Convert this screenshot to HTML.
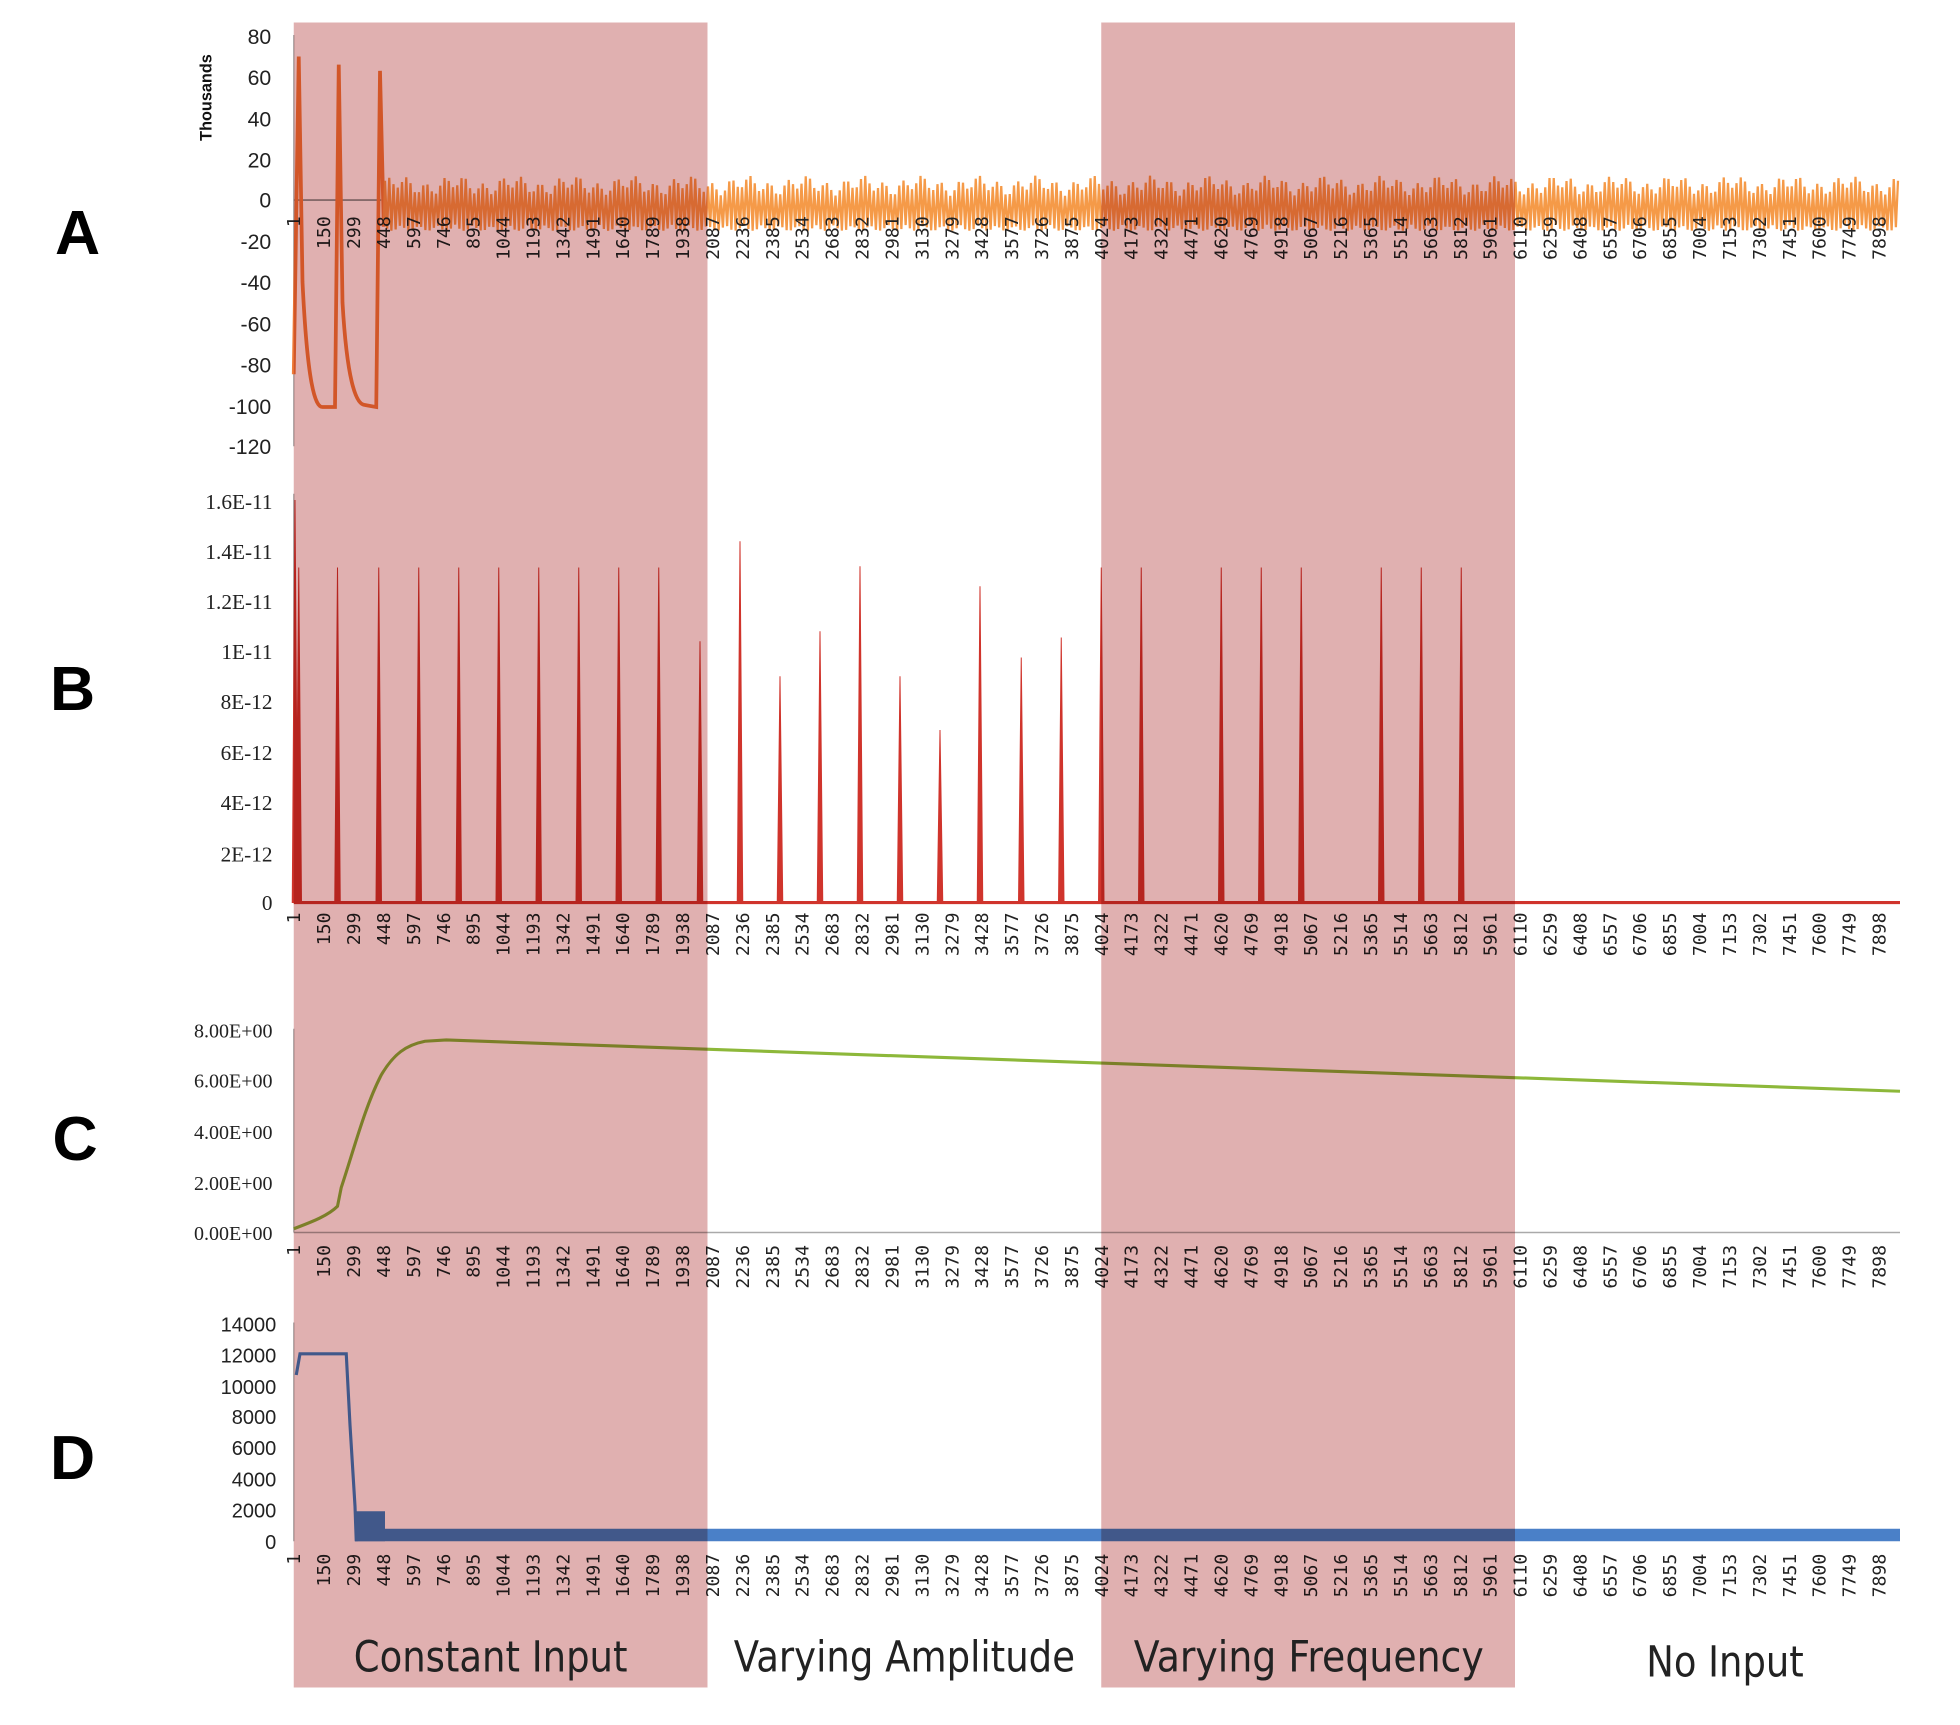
<!DOCTYPE html>
<html><head><meta charset="utf-8"><style>
html,body{margin:0;padding:0;background:#fff;}
svg{display:block;}
</style></head><body>
<svg id="s" xmlns="http://www.w3.org/2000/svg" width="1960" height="1725" viewBox="0 0 1568 1380" preserveAspectRatio="none">
<rect x="0" y="0" width="1568" height="1380" fill="#fff"/>
<g id="g"></g>
<rect x="235" y="18" width="331" height="1332" fill="#e0b0b0" style="mix-blend-mode:multiply"/>
<rect x="881" y="18" width="331" height="1332" fill="#e0b0b0" style="mix-blend-mode:multiply"/>
<g font-family="Liberation Sans, DejaVu Sans, sans-serif" font-weight="bold" font-size="50" fill="#000">
<text x="44" y="203">A</text><text x="40" y="568">B</text><text x="42" y="928">C</text><text x="40" y="1183">D</text>
</g>
<g font-family="DejaVu Sans, Liberation Sans, sans-serif" font-size="34" fill="#222">
<text x="283" y="1337" textLength="219" lengthAdjust="spacingAndGlyphs">Constant Input</text>
<text x="587" y="1337" textLength="273" lengthAdjust="spacingAndGlyphs">Varying Amplitude</text>
<text x="907" y="1337" textLength="280" lengthAdjust="spacingAndGlyphs">Varying Frequency</text>
<text x="1317" y="1341" textLength="126" lengthAdjust="spacingAndGlyphs">No Input</text>
</g>
</svg>
<script>
var NS="http://www.w3.org/2000/svg",g=document.getElementById('g');
function el(t,a,txt){var e=document.createElementNS(NS,t);for(var k in a)e.setAttribute(k,a[k]);if(txt!=null)e.textContent=txt;g.appendChild(e);return e;}
function X(n){return 235+n*0.1606;}
function yaxis(y0,y1){el('line',{x1:235,y1:y0,x2:235,y2:y1,stroke:'#aaa','stroke-width':1});}
function ylabels(list,xr,fam,fs){list.forEach(function(p){el('text',{x:xr,y:p[1]+6,'text-anchor':'end','font-family':fam,'font-size':fs,fill:'#222'},p[0]);});}
function xlabels(top){for(var i=0;i<54;i++){var n=1+149*i;var x=X(n)+5;el('text',{x:x,y:top,'text-anchor':'end','font-family':'DejaVu Sans Mono, Liberation Mono, monospace','font-size':14.5,fill:'#222',transform:'rotate(-90 '+x+' '+top+')'},String(n));}}
// A
yaxis(28,357);
ylabels([['80',29],['60',62],['40',95],['20',128],['0',160],['-20',193],['-40',226],['-60',259],['-80',292],['-100',325],['-120',357]],217,'Liberation Sans, sans-serif',17);
el('text',{x:169,y:78,'text-anchor':'middle','font-family':'Liberation Sans, sans-serif','font-size':13,'font-weight':'bold',fill:'#111',transform:'rotate(-90 169 78)'},'Thousands');
el('line',{x1:235,y1:160,x2:305,y2:160,stroke:'#999','stroke-width':1.5});
function ya(v){return 160-v*1.64;}
var d='M235,'+ya(-85)+' L239,'+ya(70)+' L242,'+ya(-40)+' C246,'+ya(-90)+' 252,'+ya(-101)+' 258,'+ya(-101)+' L268,'+ya(-101)+' L271,'+ya(66)+' L274,'+ya(-50)+' C278,'+ya(-92)+' 286,'+ya(-100)+' 292,'+ya(-100)+' L301,'+ya(-101)+' L304,'+ya(63)+' L307,'+ya(-13);
el('path',{d:d,fill:'none',stroke:'#ef7d3a','stroke-width':3});
var z='M307,'+ya(-12),k=0;
for(var x=308;x<1519;x+=1.7){k++;var up=(k%2==1);var hi=7+3*Math.sin(k*0.7)+2*Math.sin(k*0.23);var lo=-12-3*Math.abs(Math.sin(k*0.37));z+=' L'+x.toFixed(1)+','+ya(up?hi:lo).toFixed(1);}
el('path',{d:z,fill:'none',stroke:'#f59a48','stroke-width':1.8});
xlabels(173);
// B
yaxis(395,722);
ylabels([['1.6E-11',401],['1.4E-11',441],['1.2E-11',481],['1E-11',521],['8E-12',561],['6E-12',602],['4E-12',642],['2E-12',683],['0',722]],218,'Liberation Serif, serif',17);
var sp=[[236,400],[239,454],[270,454],[303,454],[335,454],[367,454],[399,454],[431,454],[463,454],[495,454],[527,454],[560,513],[592,433],[624,541],[656,505],[688,453],[720,541],[752,584],[784,469],[817,526],[849,510],[881,454],[913,454],[977,454],[1009,454],[1041,454],[1105,454],[1137,454],[1169,454]];
sp.forEach(function(p){el('path',{d:'M'+(p[0]-2.2)+',722 L'+p[0]+','+p[1]+' L'+(p[0]+2.2)+',722 Z',fill:'#d0342c',stroke:'#d0342c','stroke-width':0.8});});
el('line',{x1:235,y1:722,x2:1520,y2:722,stroke:'#d0342c','stroke-width':2.5});
xlabels(730);
// C
yaxis(823,986);
ylabels([['8.00E+00',824],['6.00E+00',864],['4.00E+00',905],['2.00E+00',946],['0.00E+00',986]],218,'Liberation Serif, serif',16);
el('line',{x1:235,y1:986,x2:1520,y2:986,stroke:'#aaa','stroke-width':1.2});
el('path',{d:'M235,983 C248,978 262,973 270,965 L273,950 C283,920 292,885 305,860 C315,843 325,836 340,833 L357,832 L1520,873',fill:'none',stroke:'#8db83a','stroke-width':2.5});
xlabels(996);
// D
yaxis(1058,1233);
ylabels([['14000',1059],['12000',1084],['10000',1109],['8000',1133],['6000',1158],['4000',1183],['2000',1208],['0',1233]],221,'Liberation Sans, sans-serif',16);
el('path',{d:'M237,1100 L240,1083 L277,1083 L280,1140 L284,1205 L285,1233',fill:'none',stroke:'#4a80c8','stroke-width':2.5});
el('rect',{x:284,y:1209,width:24,height:24,fill:'#4a80c8'});
el('rect',{x:284,y:1223,width:1236,height:10,fill:'#4a80c8'});
xlabels(1243);
</script>
</body></html>
